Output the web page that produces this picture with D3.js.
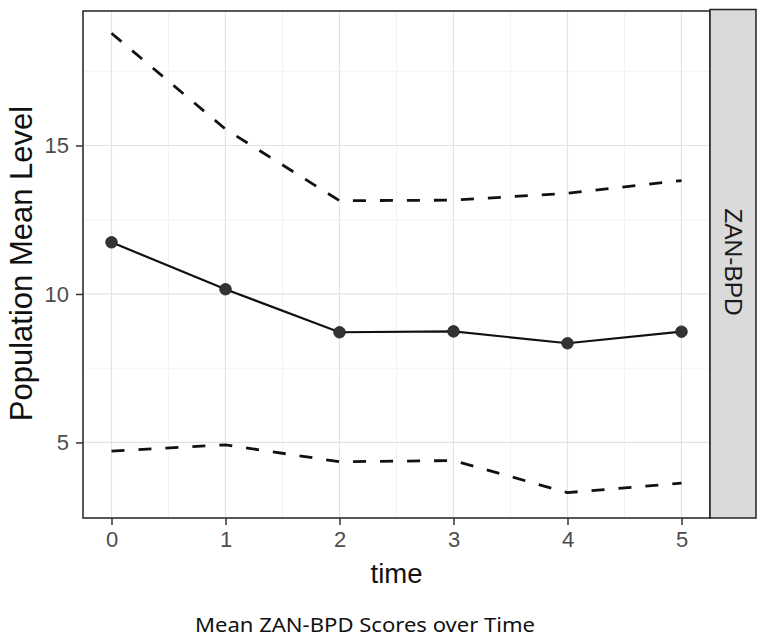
<!DOCTYPE html>
<html><head><meta charset="utf-8">
<script src="https://cdn.jsdelivr.net/npm/d3@7/dist/d3.min.js"></script>
<style>body{margin:0;background:#fff}svg{display:block}</style>
</head><body>
<script>
const times = [0, 1, 2, 3, 4, 5];
const meanLevel = [11.74, 10.16, 8.71, 8.74, 8.34, 8.73];
const upperBound = [18.78, 15.55, 13.14, 13.16, 13.39, 13.82];
const lowerBound = [4.71, 4.92, 4.35, 4.39, 3.31, 3.63];
const yTicks = [5, 10, 15];
const yMinor = [7.5, 12.5, 17.5];
const xTicks = [0, 1, 2, 3, 4, 5];
const xMinor = [0.5, 1.5, 2.5, 3.5, 4.5];
const stripLabel = "ZAN-BPD";
const yTitle = "Population Mean Level";
const xTitle = "time";
const caption = "Mean ZAN-BPD Scores over Time";

const W = 765, H = 642;
const panel = {l: 83, r: 710, t: 11, b: 518};
const strip = {l: 710, r: 756};
const fontFam = "'Liberation Sans', Arial, sans-serif";

const svg = d3.select("body").append("svg").attr("width", W).attr("height", H);

const x = d3.scaleLinear().domain([-0.25, 5.25]).range([panel.l, panel.r]);
const y = d3.scaleLinear().domain([2.455, 19.53]).range([panel.b, panel.t]);

svg.append("rect").attr("x", panel.l).attr("y", panel.t)
  .attr("width", panel.r - panel.l).attr("height", panel.b - panel.t).attr("fill", "#fff");

// grid
const g = svg.append("g");
g.selectAll(".ymin").data(yMinor).join("line")
  .attr("x1", panel.l).attr("x2", panel.r).attr("y1", d => y(d)).attr("y2", d => y(d))
  .attr("stroke", "#f0f0f0").attr("stroke-width", 0.8);
g.selectAll(".xmin").data(xMinor).join("line")
  .attr("y1", panel.t).attr("y2", panel.b).attr("x1", d => x(d)).attr("x2", d => x(d))
  .attr("stroke", "#f0f0f0").attr("stroke-width", 0.8);
g.selectAll(".ymaj").data(yTicks).join("line")
  .attr("x1", panel.l).attr("x2", panel.r).attr("y1", d => y(d)).attr("y2", d => y(d))
  .attr("stroke", "#e3e3e3").attr("stroke-width", 1.2);
g.selectAll(".xmaj").data(xTicks).join("line")
  .attr("y1", panel.t).attr("y2", panel.b).attr("x1", d => x(d)).attr("x2", d => x(d))
  .attr("stroke", "#e3e3e3").attr("stroke-width", 1.2);

// lines
const line = d3.line().x((d, i) => x(times[i])).y(d => y(d));
[upperBound, lowerBound].forEach(s => {
  svg.append("path").datum(s).attr("d", line).attr("fill", "none")
    .attr("stroke", "#111").attr("stroke-width", 2.8).attr("stroke-dasharray", "13,14");
});
svg.append("path").datum(meanLevel).attr("d", line).attr("fill", "none")
  .attr("stroke", "#111").attr("stroke-width", 2.2);
svg.selectAll(".pt").data(meanLevel).join("circle")
  .attr("cx", (d, i) => x(times[i])).attr("cy", d => y(d)).attr("r", 5.8)
  .attr("fill", "#333").attr("stroke", "#222").attr("stroke-width", 0.8);

// panel border
svg.append("rect").attr("x", panel.l).attr("y", panel.t)
  .attr("width", panel.r - panel.l).attr("height", panel.b - panel.t)
  .attr("fill", "none").attr("stroke", "#222").attr("stroke-width", 1.5);

// strip
svg.append("rect").attr("x", strip.l).attr("y", panel.t - 1.5)
  .attr("width", strip.r - strip.l).attr("height", panel.b - panel.t + 1.5)
  .attr("fill", "#dadada").attr("stroke", "#222").attr("stroke-width", 1.5);
svg.append("text").attr("transform", `translate(${(strip.l + strip.r) / 2},262) rotate(90)`)
  .attr("text-anchor", "middle").attr("dominant-baseline", "central")
  .attr("font-family", fontFam).attr("font-size", 24.5)
  .attr("fill", "#1a1a1a").text(stripLabel);

// axes
const yAxis = svg.append("g").attr("transform", `translate(${panel.l},0)`)
  .call(d3.axisLeft(y).tickValues(yTicks).tickSize(7).tickPadding(7).tickFormat(d3.format("d")));
const xAxis = svg.append("g").attr("transform", `translate(0,${panel.b})`)
  .call(d3.axisBottom(x).tickValues(xTicks).tickSize(7).tickPadding(6).tickFormat(d3.format("d")));
[yAxis, xAxis].forEach(a => {
  a.select(".domain").remove();
  a.selectAll(".tick line").attr("stroke", "#333").attr("stroke-width", 1.5);
  a.selectAll(".tick text").attr("fill", "#4d4d4d").attr("font-size", 22).attr("font-family", fontFam);
});

// titles
svg.append("text").attr("transform", `translate(32,263.5) rotate(-90)`)
  .attr("text-anchor", "middle").attr("font-family", fontFam).attr("font-size", 31)
  .attr("fill", "#111").text(yTitle);
svg.append("text").attr("x", (panel.l + panel.r) / 2).attr("y", 583)
  .attr("text-anchor", "middle").attr("font-family", fontFam).attr("font-size", 27.5)
  .attr("fill", "#111").text(xTitle);
svg.append("text").attr("x", 365).attr("y", 632)
  .attr("text-anchor", "middle").attr("font-family", "'Noto Sans', sans-serif").attr("font-size", 20)
  .attr("textLength", 340).attr("lengthAdjust", "spacingAndGlyphs")
  .attr("fill", "#111").text(caption);
</script>
</body></html>
